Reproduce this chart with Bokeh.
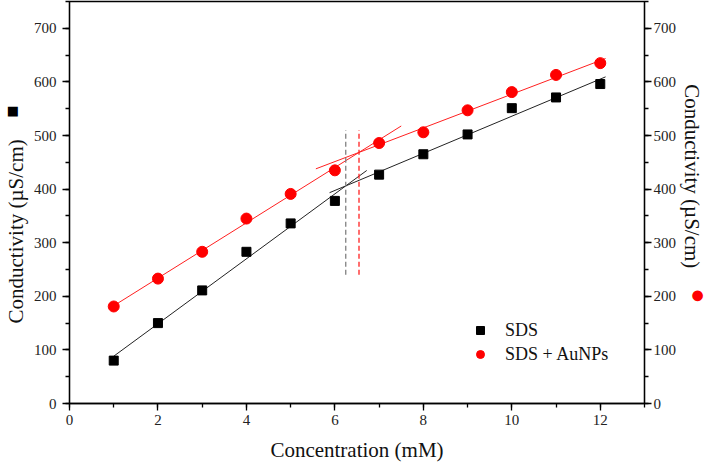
import numpy as np
from bokeh.plotting import figure
from bokeh.models import (LinearAxis, SingleIntervalTicker, FixedTicker, Legend,
                          LegendItem, Range1d)
from bokeh.embed import file_html
from bokeh.resources import INLINE

# ---------------- data ----------------
concentration = [1, 2, 3, 4, 5, 6, 7, 8, 9, 10, 11, 12]
sds = [80, 150, 211, 283, 336, 378, 427, 465, 502, 551, 571, 596]
sds_aunps = [181, 233, 283, 345, 391, 435, 486, 506, 547, 581, 613, 635]

# linear fits: points used (start, end index) and drawn x extent
sds_fit_low = (0, 6, [1.0, 6.72])
sds_fit_high = (6, 12, [5.88, 12.12])
aunps_fit_low = (0, 6, [1.0, 7.5])
aunps_fit_high = (6, 12, [5.57, 12.12])
cmc_y_span = [240, 510]

x_label = "Concentration (mM)"
y_label = "Conductivity (µS/cm)"
series_names = ["SDS", "SDS + AuNPs"]

FONT = "Liberation Serif"
NB = "\u00a0"

p = figure(width=709, height=466, x_range=Range1d(0, 13), y_range=Range1d(0, 750),
           output_backend="svg", toolbar_location=None,
           min_border_left=69, min_border_right=63, min_border_top=1, min_border_bottom=63)
p.xgrid.visible = False
p.ygrid.visible = False
p.outline_line_color = "black"
p.outline_line_width = 1.3

p.xaxis.ticker = SingleIntervalTicker(interval=2, num_minor_ticks=2)
p.yaxis.ticker = SingleIntervalTicker(interval=100, num_minor_ticks=2)
right = LinearAxis(ticker=SingleIntervalTicker(interval=100, num_minor_ticks=2))
p.add_layout(right, "right")

for ax in [p.xaxis[0], p.yaxis[0], right]:
    ax.major_tick_out = 7
    ax.major_tick_in = 0
    ax.minor_tick_out = 4
    ax.minor_tick_in = 0
    ax.axis_line_width = 1.3
    ax.major_tick_line_width = 1.3
    ax.minor_tick_line_width = 1.3
    ax.major_label_text_font = FONT
    ax.major_label_text_font_size = "15px"
    ax.major_label_text_color = "#222222"
    ax.axis_label_text_font = FONT
    ax.axis_label_text_font_size = "21px"
    ax.axis_label_text_font_style = "normal"
    ax.axis_label_text_color = "#111111"
    ax.axis_label_text_line_height = 1.0

p.xaxis.major_label_standoff = 4
p.yaxis[0].major_label_standoff = 6
right.major_label_standoff = 2

p.xaxis.axis_label = x_label
p.xaxis.axis_label_standoff = 10
p.yaxis[0].axis_label = y_label + NB * 11
p.yaxis[0].axis_label_standoff = 3
right.axis_label = y_label + NB * 10
right.axis_label_standoff = 1


# extra label-only axes carrying the series symbols of the y titles
def symbol_axis(side, text, color, size, standoff):
    a = LinearAxis(ticker=FixedTicker(ticks=[]))
    a.axis_line_color = None
    a.major_tick_out = 0
    a.major_tick_in = 0
    a.minor_tick_out = 0
    a.minor_tick_in = 0
    a.major_label_standoff = 0
    a.axis_label = text
    a.axis_label_text_font = "DejaVu Sans"
    a.axis_label_text_font_size = size
    a.axis_label_text_font_style = "normal"
    a.axis_label_text_color = color
    a.axis_label_text_line_height = 1.0
    a.axis_label_standoff = standoff
    p.add_layout(a, side)


symbol_axis("left", NB * 44 + "■", "black", "13px", -18)
symbol_axis("right", NB * 42 + "●", "#ff0000", "14px", -17)

x = np.array(concentration, dtype=float)


def fit_line(yvals, spec, color):
    i0, i1, xr = spec
    k, b = np.polyfit(x[i0:i1], np.array(yvals[i0:i1], dtype=float), 1)
    xs = np.array(xr)
    p.line(xs, k * xs + b, line_color=color, line_width=1)
    return k, b


k1, b1 = fit_line(sds, sds_fit_low, "#222222")
k2, b2 = fit_line(sds, sds_fit_high, "#222222")
k3, b3 = fit_line(sds_aunps, aunps_fit_low, "#ff2020")
k4, b4 = fit_line(sds_aunps, aunps_fit_high, "#ff2020")

cmc_sds = (b2 - b1) / (k1 - k2)
cmc_aunps = (b4 - b3) / (k3 - k4)
p.line([cmc_sds, cmc_sds], cmc_y_span, line_color="#808080", line_width=1.3, line_dash="5 3")
p.line([cmc_aunps, cmc_aunps], cmc_y_span, line_color="#ff2020", line_width=1.3, line_dash="5 3")

r_sq = p.scatter(x, sds, marker="square", size=9, fill_color="black", line_color="black")
r_ci = p.scatter(x, sds_aunps, marker="circle", size=11, fill_color="#ff0000", line_color="#ff0000")

legend = Legend(items=[LegendItem(label=series_names[0], renderers=[r_sq]),
                       LegendItem(label=series_names[1], renderers=[r_ci])],
                location=(401, 38))
legend.border_line_color = None
legend.background_fill_alpha = 0
legend.padding = 0
legend.margin = 0
legend.spacing = 2
legend.glyph_width = 20
legend.glyph_height = 22
legend.label_height = 20
legend.label_standoff = 15
legend.label_text_font = FONT
legend.label_text_font_size = "18px"
legend.label_text_color = "#111111"
p.add_layout(legend)

open("out.html", "w").write(file_html(p, INLINE))
